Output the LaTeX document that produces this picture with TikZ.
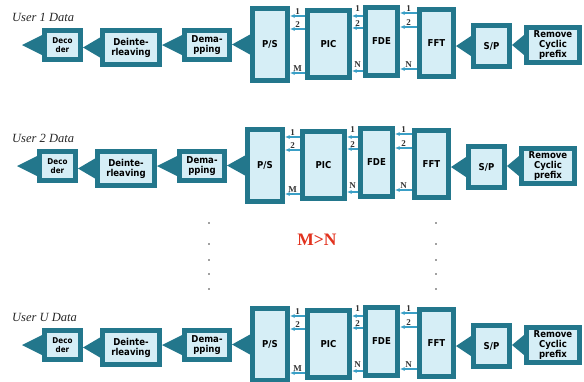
\documentclass[tikz,border=0pt]{standalone}
\usepackage{fontspec}
\setmainfont{Liberation Serif}
\newfontfamily\blockfont{DejaVu Sans Condensed}
\usetikzlibrary{arrows.meta}
\definecolor{blockteal}{HTML}{23778C}
\definecolor{blockfill}{HTML}{D6EEF6}
\definecolor{sigblue}{HTML}{3A9FC6}
\definecolor{mnred}{HTML}{E2321E}
\tikzstyle{block} = [draw=blockteal, line width=5pt, outer sep=2.5pt, rectangle, fill=blockfill, align=center, inner sep=0pt, font=\blockfont\bfseries\fontsize{9.5}{10}\selectfont]
\tikzstyle{feed} = [fill=blockteal]
\tikzstyle{sig} = [draw=sigblue, line width=1.1pt, -{Latex[length=4.5pt,width=4pt]}]
\tikzstyle{lab} = [font=\bfseries\fontsize{9}{9}\selectfont, text=black!80, inner sep=0.5pt, above=0.5pt]

\begin{document}
\begin{tikzpicture}[x=1pt, y=-1pt]
	\useasboundingbox (0,0) rectangle (584,381);
	\foreach \r/\oy/\dx/\u in {1/0/0/1, 2/121/-5/2, 3/300/0/U} {
		%user label
		\node[anchor=west, inner sep=0pt, text=black!85, font=\itshape\fontsize{12.5}{12.5}\selectfont] (user\r) at (12,17+\oy) {User \u\ Data};
		\begin{scope}[shift={(\dx,\oy)}]
			%blocks
			\node[block, minimum width=36pt, minimum height=29pt, font=\blockfont\bfseries\fontsize{8}{9}\selectfont] (dec\r) at (62.5,45) {Deco\\der};
			\node[block, minimum width=57pt, minimum height=34pt] (deint\r) at (131,47.5) {Deinte-\\rleaving};
			\node[block, minimum width=45pt, minimum height=29pt] (demap\r) at (207,45) {Dema-\\pping};
			\node[block, minimum width=35pt, minimum height=72pt] (ps\r) at (270,44.5) {P/S};
			\node[block, minimum width=42pt, minimum height=67pt] (pic\r) at (328.5,44) {PIC};
			\node[block, minimum width=32pt, minimum height=68pt] (fde\r) at (381.5,41.5) {FDE};
			\node[block, minimum width=34pt, minimum height=67pt] (fft\r) at (436.5,43) {FFT};
			\node[block, minimum width=36pt, minimum height=41pt] (sp\r) at (491.5,46) {S/P};
			\node[block, minimum width=53pt, minimum height=35pt] (rcp\r) at (553,45) {Remove\\Cyclic\\prefix};
			\coordinate (out\r) at (22,45);

			%thick connectors
			\foreach \a/\b in {rcp/sp, sp/fft, ps/demap, demap/deint, deint/dec} {
				\fill[feed] ([yshift=10pt]\a\r.west) -- ([yshift=-10pt]\a\r.west) -- (\b\r.east |- \a\r.west) -- cycle;
			}
			\fill[feed] ([yshift=10pt]dec\r.west) -- ([yshift=-10pt]dec\r.west) -- (out\r) -- cycle;

			%parallel streams
			\draw[sig] (pic\r.west |- 0,16) -- (ps\r.east |- 0,16) node[lab, midway] {1};
			\draw[sig] (pic\r.west |- 0,29) -- (ps\r.east |- 0,29) node[lab, midway] {2};
			\draw[sig] (pic\r.west |- 0,73) -- (ps\r.east |- 0,73) node[lab, midway] {M};
			\draw[sig] (fde\r.west |- 0,16) -- (pic\r.east |- 0,16) node[lab, midway, above=3pt] {1};
			\draw[sig] (fde\r.west |- 0,28) -- (pic\r.east |- 0,28) node[lab, midway] {2};
			\draw[sig] (fde\r.west |- 0,71) -- (pic\r.east |- 0,71) node[lab, midway, above=2pt] {N};
			\draw[sig] (fft\r.west |- 0,13) -- (fde\r.east |- 0,13) node[lab, midway] {1};
			\draw[sig] (fft\r.west |- 0,27) -- (fde\r.east |- 0,27) node[lab, midway] {2};
			\draw[sig] (fft\r.west |- 0,69) -- (fde\r.east |- 0,69) node[lab, midway] {N};
		\end{scope}
	}

	%dots
	\foreach \yd in {223,244,260,274,289} {
		\fill[black!75] (209,\yd) circle (0.9pt) (436,\yd) circle (0.9pt);
	}
	\node[text=mnred, font=\bfseries\fontsize{17.5}{17.5}\selectfont] (cond) at (317,240) {M>N};
\end{tikzpicture}
\end{document}
